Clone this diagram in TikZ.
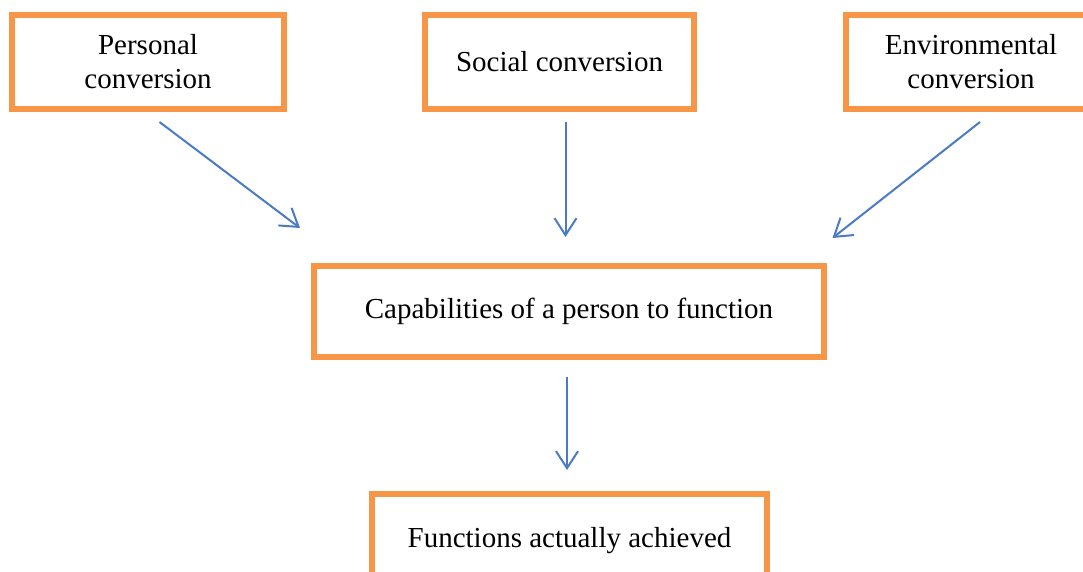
\documentclass[tikz,border=0pt]{standalone}
\usepackage{fontspec}
\setmainfont{Liberation Serif}
\usepackage{xcolor}
\definecolor{boxcolor}{HTML}{F79646}
\definecolor{arrowcolor}{HTML}{4A7BC4}
\usepackage{tikz}
\usetikzlibrary{arrows.meta}

\begin{document}
\begin{tikzpicture}[x=1pt, y=-1pt]

    \tikzset{%
        stagebox/.style={%
                draw=boxcolor, line width=5.5pt, fill=white,
                minimum height=94pt, align=center,
                font=\fontsize{29}{34}\selectfont
            },
        flow/.style={%
                draw=arrowcolor, line width=2pt,
                -{Straight Barb[length=17pt, width=22pt, line width=2pt]}
            }
    }

    \useasboundingbox (0, 0) rectangle (1083, 571);

    % conversion factors
    \node [stagebox, minimum width=272pt] (personal) at (148, 61.75) {Personal\\conversion};
    \node [stagebox, minimum width=269pt] (social) at (559.5, 61.75) {Social conversion};
    \node [stagebox, minimum width=250pt] (environ) at (971, 61.75) {Environmental\\conversion};

    \node [stagebox, minimum width=510pt, minimum height=91pt] (capab) at (569, 311.5) {Capabilities of a person to function};
    \node [stagebox, minimum width=395pt] (achieved) at (569.5, 541) {Functions actually achieved};

    % free ends of the arrows
    \coordinate (personalout) at (159.5, 122);
    \coordinate (socialout) at (565.5, 122);
    \coordinate (environout) at (980, 122);
    \coordinate (capableft) at (300, 228);
    \coordinate (capabmid) at (565.5, 237);
    \coordinate (capabright) at (832.5, 238);
    \coordinate (capabout) at (567, 377);
    \coordinate (achievedin) at (567, 470);

    \draw [flow] (personalout) -- (capableft);
    \draw [flow] (socialout) -- (capabmid);
    \draw [flow] (environout) -- (capabright);
    \draw [flow] (capabout) -- (achievedin);

\end{tikzpicture}
\end{document}
